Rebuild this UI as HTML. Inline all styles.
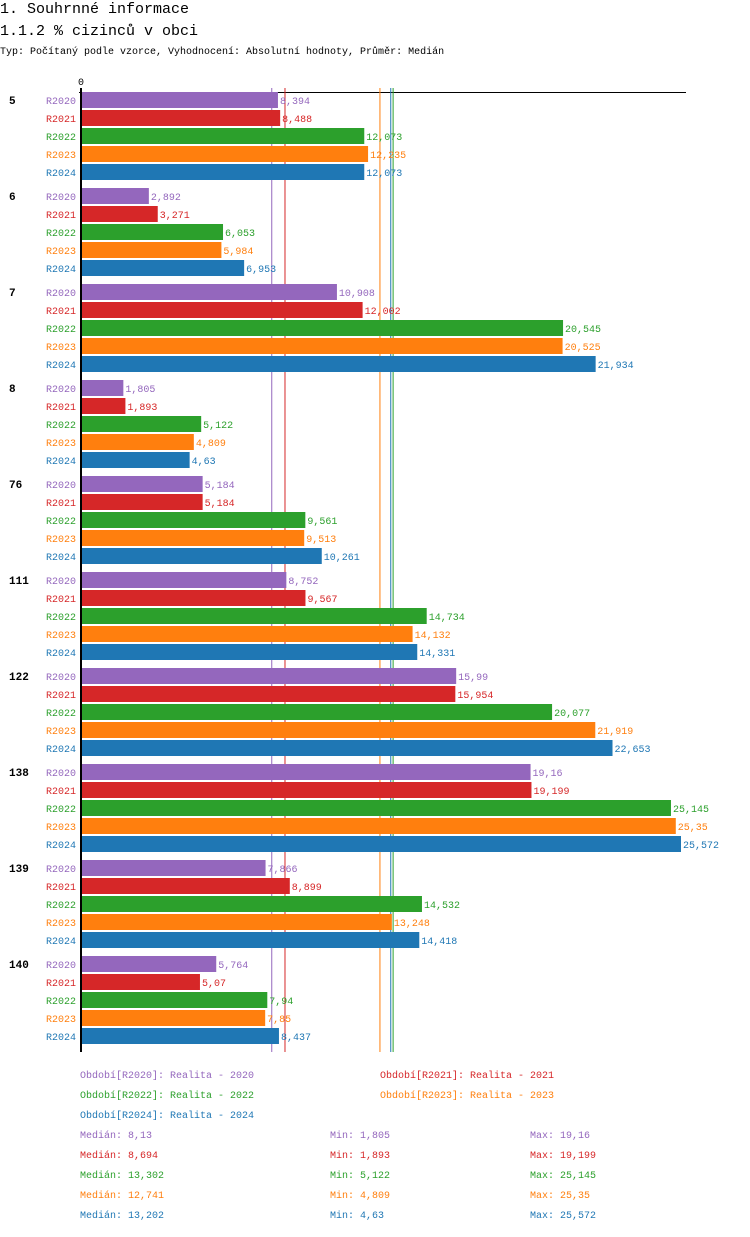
<!DOCTYPE html>
<html><head><meta charset="utf-8"><style>
body{margin:0;background:#fff;width:750px;height:1232px;overflow:hidden;font-family:"Liberation Mono","DejaVu Sans Mono",monospace;}
svg text{font-family:"Liberation Mono","DejaVu Sans Mono",monospace;}
</style></head><body>
<svg id="c" width="750" height="1232" xmlns="http://www.w3.org/2000/svg">
<text x="0" y="13" font-size="15">1. Souhrnné informace</text>
<text x="0" y="35" font-size="15">1.1.2 % cizinců v obci</text>
<text x="0" y="54" font-size="10">Typ: Počítaný podle vzorce, Vyhodnocení: Absolutní hodnoty, Průměr: Medián</text>
<text x="78" y="85" font-size="10">0</text>
<line x1="79" y1="92.5" x2="686" y2="92.5" stroke="#000" stroke-width="1"/>
<g id="med"></g><g id="bars"></g>
<line x1="81" y1="88" x2="81" y2="1052" stroke="#000" stroke-width="2"/>
<g id="leg"></g>
</svg>
<script>
const categories=["5","6","7","8","76","111","122","138","139","140"];
const seriesNames=["R2020","R2021","R2022","R2023","R2024"];
const colors=["#9467bd","#d62728","#2ca02c","#ff7f0e","#1f77b4"];
const r2020=[8.394,2.892,10.908,1.805,5.184,8.752,15.99,19.16,7.866,5.764];
const r2021=[8.488,3.271,12.002,1.893,5.184,9.567,15.954,19.199,8.899,5.07];
const r2022=[12.073,6.053,20.545,5.122,9.561,14.734,20.077,25.145,14.532,7.94];
const r2023=[12.235,5.984,20.525,4.809,9.513,14.132,21.919,25.35,13.248,7.85];
const r2024=[12.073,6.953,21.934,4.63,10.261,14.331,22.653,25.572,14.418,8.437];
const medians=[8.13,8.694,13.302,12.741,13.202];
const mins=[1.805,1.893,5.122,4.809,4.63];
const maxs=[19.16,19.199,25.145,25.35,25.572];
const legendLabels=["Období[R2020]: Realita - 2020","Období[R2021]: Realita - 2021","Období[R2022]: Realita - 2022","Období[R2023]: Realita - 2023","Období[R2024]: Realita - 2024"];
const series=[r2020,r2021,r2022,r2023,r2024];
const NS="http://www.w3.org/2000/svg";
const x=v=>81+v*600/25.572;
const fmt=v=>String(v).replace('.',',');
function mk(tag,attrs,parent,txt){const e=document.createElementNS(NS,tag);for(const k in attrs)e.setAttribute(k,attrs[k]);if(txt!==undefined)e.textContent=txt;parent.appendChild(e);return e;}
const gb=document.getElementById('bars');
categories.forEach((c,i)=>{
 const y0=92+i*96;
 const t=mk('text',{x:9,y:y0+12,'font-size':11,'font-weight':'bold'},gb,c);
 
 
 series.forEach((s,j)=>{
  const y=y0+j*18;
  const l=mk('text',{x:76,y:y+12,'font-size':10,'text-anchor':'end',fill:colors[j]},gb,seriesNames[j]);
  
  
  const r=mk('rect',{x:82,y:y,width:x(s[i])-82,height:16,fill:colors[j]},gb);
  
  
  const v=mk('text',{x:x(s[i])+2,y:y+12,'font-size':10,fill:colors[j]},gb,fmt(s[i]));
  
  
 });
});
const gm=document.getElementById('med');
medians.forEach((m,j)=>{
 const l=mk('line',{x1:x(m),x2:x(m),y1:88,y2:1052,stroke:colors[j],'stroke-width':1},gm);
 
 
});
const gl=document.getElementById('leg');
legendLabels.forEach((s,j)=>{
 const t=mk('text',{x:j%2?380:80,y:1078+Math.floor(j/2)*20,'font-size':10,fill:colors[j]},gl,s);
 
 
});
seriesNames.forEach((n,j)=>{
 const y=1138+j*20;
 const a=mk('text',{x:80,y:y,'font-size':10,fill:colors[j]},gl,'Medián: '+fmt(medians[j]));
 
 
 const b=mk('text',{x:330,y:y,'font-size':10,fill:colors[j]},gl,'Min: '+fmt(mins[j]));
 
 
 const c=mk('text',{x:530,y:y,'font-size':10,fill:colors[j]},gl,'Max: '+fmt(maxs[j]));
 
 
});
</script>
</body></html>
